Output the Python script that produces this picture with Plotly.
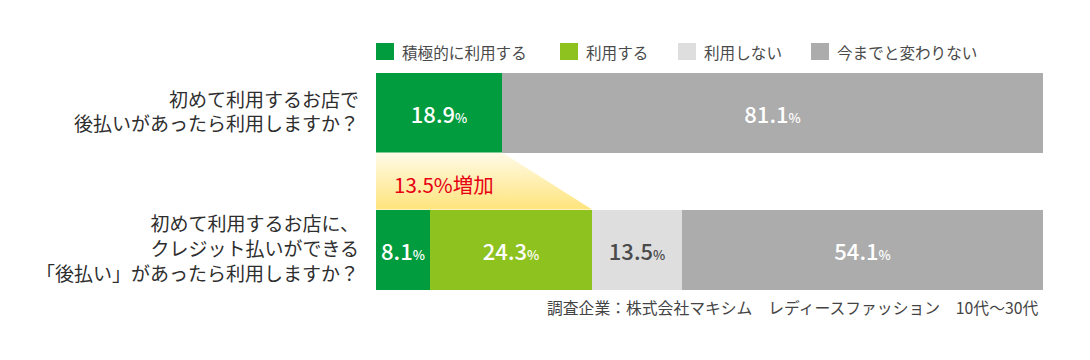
import plotly.graph_objects as go

# ---- data ----
categories = [
    "初めて利用するお店で<br>後払いがあったら利用しますか？",
    "初めて利用するお店に、<br>クレジット払いができる<br>「後払い」があったら利用しますか？",
]
series_names = ["積極的に利用する", "利用する", "利用しない", "今までと変わりない"]
active_use = [18.9, 8.1]
use = [None, 24.3]
not_use = [None, 13.5]
no_change = [81.1, 54.1]
source_text = "調査企業：株式会社マキシム　レディースファッション　10代～30代"

colors = ["#009c3d", "#8dc21f", "#dedede", "#acacac"]
text_colors = ["#ffffff", "#ffffff", "#4a4a4a", "#ffffff"]

y_pos = [1, 0]
bar_w = 0.584
FONT = "Noto Sans CJK JP"

def lbl(v):
    if v is None:
        return ""
    return f"{v}<span style='font-size:13px'>%</span>"

fig = go.Figure()
all_series = [active_use, use, not_use, no_change]
for name, vals, col, tcol in zip(series_names, all_series, colors, text_colors):
    fig.add_trace(go.Bar(
        name=name, orientation="h", y=y_pos, x=vals, width=bar_w,
        marker=dict(color=col, line=dict(width=0)),
        text=[lbl(v) for v in vals], textposition="inside",
        insidetextanchor="middle", constraintext="none",
        textfont=dict(family=FONT, size=22, color=tcol, weight=500),
        showlegend=False, hoverinfo="skip",
    ))

# increase trapezoid
after = active_use[1] + use[1]
before = active_use[0]
increase = after - before
fig.add_trace(go.Scatter(
    x=[0, before, after, 0, 0],
    y=[1 - bar_w / 2, 1 - bar_w / 2, bar_w / 2, bar_w / 2, 1 - bar_w / 2],
    fill="toself", mode="none",
    fillgradient=dict(type="vertical", colorscale=[[0, "#fee47c"], [1, "#fffbe8"]]),
    showlegend=False, hoverinfo="skip",
))

# pixel geometry of the plot area (page has an 8px body margin)
plot_l, plot_w = 376, 667
plot_t, plot_h = 44, 274
plot_b = plot_t + plot_h

def px(x):
    return (x - plot_l) / plot_w

def py(y):
    return (plot_b - y) / plot_h

annotations = [
    dict(x=2.4, y=0.475, xref="x", yref="y", text=f"{increase:.1f}%増加",
         showarrow=False, xanchor="left", yanchor="middle",
         font=dict(family=FONT, size=20.5, color="#e60012", weight=400)),
    dict(x=px(1040), y=py(307), xref="paper", yref="paper", text=source_text,
         showarrow=False, xanchor="right", yanchor="middle",
         font=dict(family=FONT, size=15.8, color="#444444")),
]

# manual legend
shapes = []
leg_x = [376, 560, 678, 811]
for name, col, lx in zip(series_names, colors, leg_x):
    shapes.append(dict(type="rect", xref="paper", yref="paper",
                       x0=px(lx), x1=px(lx + 18), y0=py(60), y1=py(43),
                       fillcolor=col, line=dict(width=0)))
    annotations.append(dict(x=px(lx + 24), y=py(51.5),
                            xref="paper", yref="paper", text=name, showarrow=False,
                            xanchor="left", yanchor="middle",
                            font=dict(family=FONT, size=15.6, color="#4a4a4a")))

fig.update_layout(
    width=1090, height=360,
    margin=dict(l=plot_l - 8, r=1090 - plot_l - plot_w + 8, t=plot_t - 8, b=360 - plot_b + 8),
    barmode="stack", bargap=0,
    plot_bgcolor="white", paper_bgcolor="white",
    xaxis=dict(range=[0, 100], visible=False, fixedrange=True),
    yaxis=dict(range=[-0.5, 1.5], tickvals=y_pos, ticktext=categories,
               showgrid=False, zeroline=False, showline=False, ticks="",
               ticklabelstandoff=16,
               tickfont=dict(family=FONT, size=19, color="#2e2e2e", weight=400)),
    shapes=shapes, annotations=annotations,
    font=dict(family=FONT),
)

fig.write_html("out.html")
